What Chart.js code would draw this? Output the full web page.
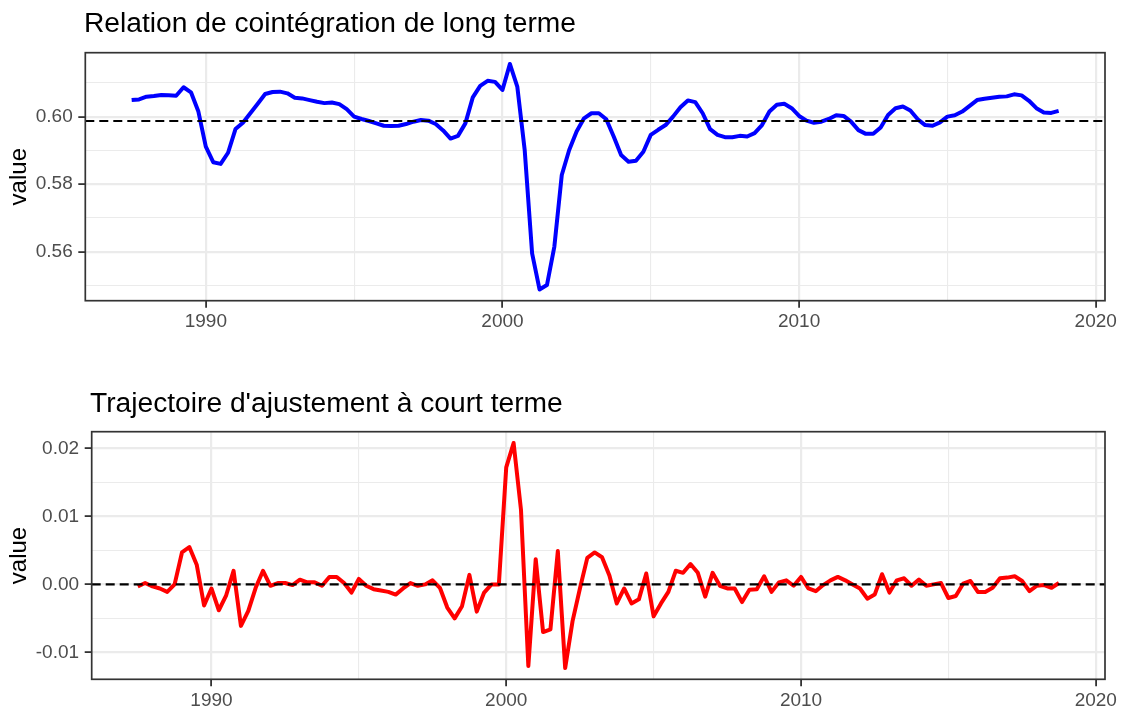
<!DOCTYPE html>
<html><head><meta charset="utf-8">
<script src="https://cdn.jsdelivr.net/npm/chart.js@4.4.1/dist/chart.umd.min.js"></script>
<style>
html,body{margin:0;padding:0;background:#fff;}
#wrap{position:relative;width:1123px;height:713px;overflow:hidden;font-family:"Liberation Sans",Arial,sans-serif;}
.ttl{position:absolute;font-size:28.2px;color:#000;white-space:nowrap;line-height:1;}
canvas{position:absolute;left:0;}
</style></head>
<body><div id="wrap">
<canvas id="c1" width="1123" height="345" style="top:0;width:1123px;height:345px"></canvas>
<canvas id="c2" width="1123" height="368" style="top:345px;width:1123px;height:368px"></canvas>
<div class="ttl" style="left:84px;top:8.4px">Relation de cointégration de long terme</div>
<div class="ttl" style="left:90px;top:387.8px">Trajectoire d'ajustement à court terme</div>
</div>
<script>
// quarterly series, 1987 Q3 .. 2018 Q4
const startYear = 1987.5;
const periodsPerYear = 4;

const longRun = [
  0.6049, 0.6051,
  0.6059, 0.6061, 0.6064, 0.6063,
  0.6062, 0.6087, 0.6072, 0.6015,
  0.5911, 0.5865, 0.5860, 0.5893,
  0.5963, 0.5982, 0.6010, 0.6038,
  0.6067, 0.6073, 0.6074, 0.6069,
  0.6056, 0.6054, 0.6049, 0.6044,
  0.6040, 0.6042, 0.6037, 0.6022,
  0.6000, 0.5993, 0.5987, 0.5980,
  0.5973, 0.5972, 0.5973, 0.5978,
  0.5985, 0.5990, 0.5988, 0.5978,
  0.5959, 0.5935, 0.5943, 0.5980,
  0.6057, 0.6091, 0.6106, 0.6103,
  0.6079, 0.6156, 0.6089, 0.5901,
  0.5595, 0.5488, 0.5501, 0.5615,
  0.5827, 0.5901, 0.5956, 0.5995,
  0.6010, 0.6010, 0.5992, 0.5941,
  0.5886, 0.5866, 0.5869, 0.5896,
  0.5946, 0.5961, 0.5975, 0.6000,
  0.6028, 0.6048, 0.6043, 0.6010,
  0.5963, 0.5946, 0.5939, 0.5939,
  0.5943, 0.5941, 0.5951, 0.5975,
  0.6015, 0.6035, 0.6038, 0.6025,
  0.6002, 0.5988, 0.5982, 0.5985,
  0.5993, 0.6004, 0.6002, 0.5985,
  0.5960, 0.5949, 0.5949, 0.5968,
  0.6005, 0.6025, 0.6030, 0.6018,
  0.5992, 0.5975, 0.5973, 0.5983,
  0.6000, 0.6004, 0.6015, 0.6032,
  0.6049, 0.6053, 0.6056, 0.6059,
  0.6060, 0.6066, 0.6063, 0.6047,
  0.6025, 0.6012, 0.6011, 0.6017
];

const shortRun = [
  -0.0003, 0.0002,
  -0.0003, -0.0006, -0.0011, 0.0000,
  0.0047, 0.0055, 0.0029, -0.0031,
  -0.0006, -0.0038, -0.0016, 0.0020,
  -0.0061, -0.0039, -0.0005, 0.0020,
  -0.0002, 0.0002, 0.0002, -0.0001,
  0.0007, 0.0003, 0.0003, -0.0002,
  0.0011, 0.0011, 0.0002, -0.0012,
  0.0008, -0.0002, -0.0007, -0.0009,
  -0.0011, -0.0015, -0.0006, 0.0002,
  -0.0002, 0.0000, 0.0006, -0.0005,
  -0.0034, -0.0050, -0.0032, 0.0014,
  -0.0040, -0.0012, 0.0000, 0.0000,
  0.0172, 0.0208, 0.0110, -0.0120,
  0.0037, -0.0070, -0.0066, 0.0049,
  -0.0123, -0.0054, -0.0006, 0.0039,
  0.0047, 0.0040, 0.0013, -0.0028,
  -0.0006, -0.0028, -0.0022, 0.0016,
  -0.0047, -0.0028, -0.0011, 0.0020,
  0.0017, 0.0030, 0.0017, -0.0018,
  0.0017, -0.0002, -0.0006, -0.0006,
  -0.0026, -0.0008, -0.0007, 0.0012,
  -0.0011, 0.0003, 0.0006, -0.0002,
  0.0011, -0.0006, -0.0010, -0.0001,
  0.0006, 0.0011, 0.0006, 0.0000,
  -0.0006, -0.0021, -0.0015, 0.0015,
  -0.0012, 0.0006, 0.0009, -0.0002,
  0.0007, -0.0002, 0.0000, 0.0002,
  -0.0020, -0.0017, 0.0001, 0.0005,
  -0.0011, -0.0011, -0.0005, 0.0009,
  0.0010, 0.0012, 0.0005, -0.0010,
  -0.0002, -0.0001, -0.0005, 0.0002
];

const longRunMean = 0.5987;
const shortRunRef = 0.0;

const xGridYears = [1985, 1990, 1995, 2000, 2005, 2010, 2015, 2020];
const xLabelYears = [1990, 2000, 2010, 2020];
const topGrid = [0.55, 0.56, 0.57, 0.58, 0.59, 0.60, 0.61, 0.62];
const topLabels = [0.56, 0.58, 0.60];
const bottomGrid = [-0.015, -0.01, -0.005, 0.0, 0.005, 0.01, 0.015, 0.02, 0.025];
const bottomLabels = [-0.01, 0.0, 0.01, 0.02];

const times = longRun.map((_, i) => startYear + i / periodsPerYear);

function expandRange(arr) {
  const lo = Math.min(...arr), hi = Math.max(...arr);
  const pad = (hi - lo) * 0.05;
  return [lo - pad, hi + pad];
}
const near = (a, list) => list.some(v => Math.abs(v - a) < 1e-9);

const panelBorder = {
  id: 'panelBorder',
  afterDatasetsDraw(chart) {
    const {ctx, chartArea: a} = chart;
    ctx.save();
    ctx.strokeStyle = '#333333';
    ctx.lineWidth = 1.7;
    ctx.strokeRect(a.left, a.top, a.right - a.left, a.bottom - a.top);
    ctx.restore();
  }
};

const FONT = 'Liberation Sans, Arial, sans-serif';

function makePanel(canvasId, values, color, refValue, yGrid, yLabels, geo) {
  const [xMin, xMax] = expandRange(times);
  const [yMin, yMax] = expandRange(values);
  return new Chart(document.getElementById(canvasId), {
    type: 'line',
    data: {
      datasets: [
        {
          data: [{x: xMin, y: refValue}, {x: xMax, y: refValue}],
          borderColor: '#000000', borderWidth: 2.1, borderDash: [9, 5],
          pointRadius: 0, tension: 0, fill: false
        },
        {
          data: times.map((t, i) => ({x: t, y: values[i]})),
          borderColor: color, borderWidth: 4, borderJoinStyle: 'round',
          pointRadius: 0, tension: 0, fill: false
        }
      ]
    },
    options: {
      responsive: false, animation: false, devicePixelRatio: 1,
      layout: {padding: {top: geo.top, right: 18, bottom: 0, left: 0}},
      plugins: {legend: {display: false}, tooltip: {enabled: false}, title: {display: false}},
      scales: {
        x: {
          type: 'linear', min: xMin, max: xMax,
          afterBuildTicks: s => { s.ticks = xGridYears.filter(v => v >= xMin && v <= xMax).map(v => ({value: v})); },
          afterFit: s => { s.height = geo.xh; },
          border: {display: false},
          grid: {
            color: '#EBEBEB',
            lineWidth: c => (c.tick && near(c.tick.value, xLabelYears)) ? 2.2 : 1.1,
            tickLength: 7,
            tickWidth: 1.8,
            tickColor: c => (c.tick && near(c.tick.value, xLabelYears)) ? '#333333' : 'rgba(0,0,0,0)'
          },
          ticks: {
            autoSkip: false, maxRotation: 0, padding: 3,
            color: '#4D4D4D', font: {family: FONT, size: 19},
            callback: v => near(v, xLabelYears) ? String(v) : ''
          }
        },
        y: {
          type: 'linear', min: yMin, max: yMax,
          afterBuildTicks: s => { s.ticks = yGrid.filter(v => v >= yMin && v <= yMax).map(v => ({value: v})); },
          afterFit: s => { s.width = geo.yw; },
          border: {display: false},
          grid: {
            color: '#EBEBEB',
            lineWidth: c => (c.tick && near(c.tick.value, yLabels)) ? 2.2 : 1.1,
            tickLength: 7,
            tickWidth: 1.8,
            tickColor: c => (c.tick && near(c.tick.value, yLabels)) ? '#333333' : 'rgba(0,0,0,0)'
          },
          ticks: {
            autoSkip: false, padding: 5.6,
            color: '#4D4D4D', font: {family: FONT, size: 19},
            callback: v => near(v, yLabels) ? v.toFixed(2) : ''
          },
          title: {
            display: true, text: 'value', color: '#000000',
            font: {family: FONT, size: 24},
            padding: {top: 5, bottom: 0}
          }
        }
      }
    },
    plugins: [panelBorder]
  });
}

makePanel('c1', longRun, '#0000FF', longRunMean, topGrid, topLabels, {top: 52.7, xh: 44.3, yw: 85.3});
makePanel('c2', shortRun, '#FF0000', shortRunRef, bottomGrid, bottomLabels, {top: 86.7, xh: 33.7, yw: 91.7});
</script>
</body></html>
